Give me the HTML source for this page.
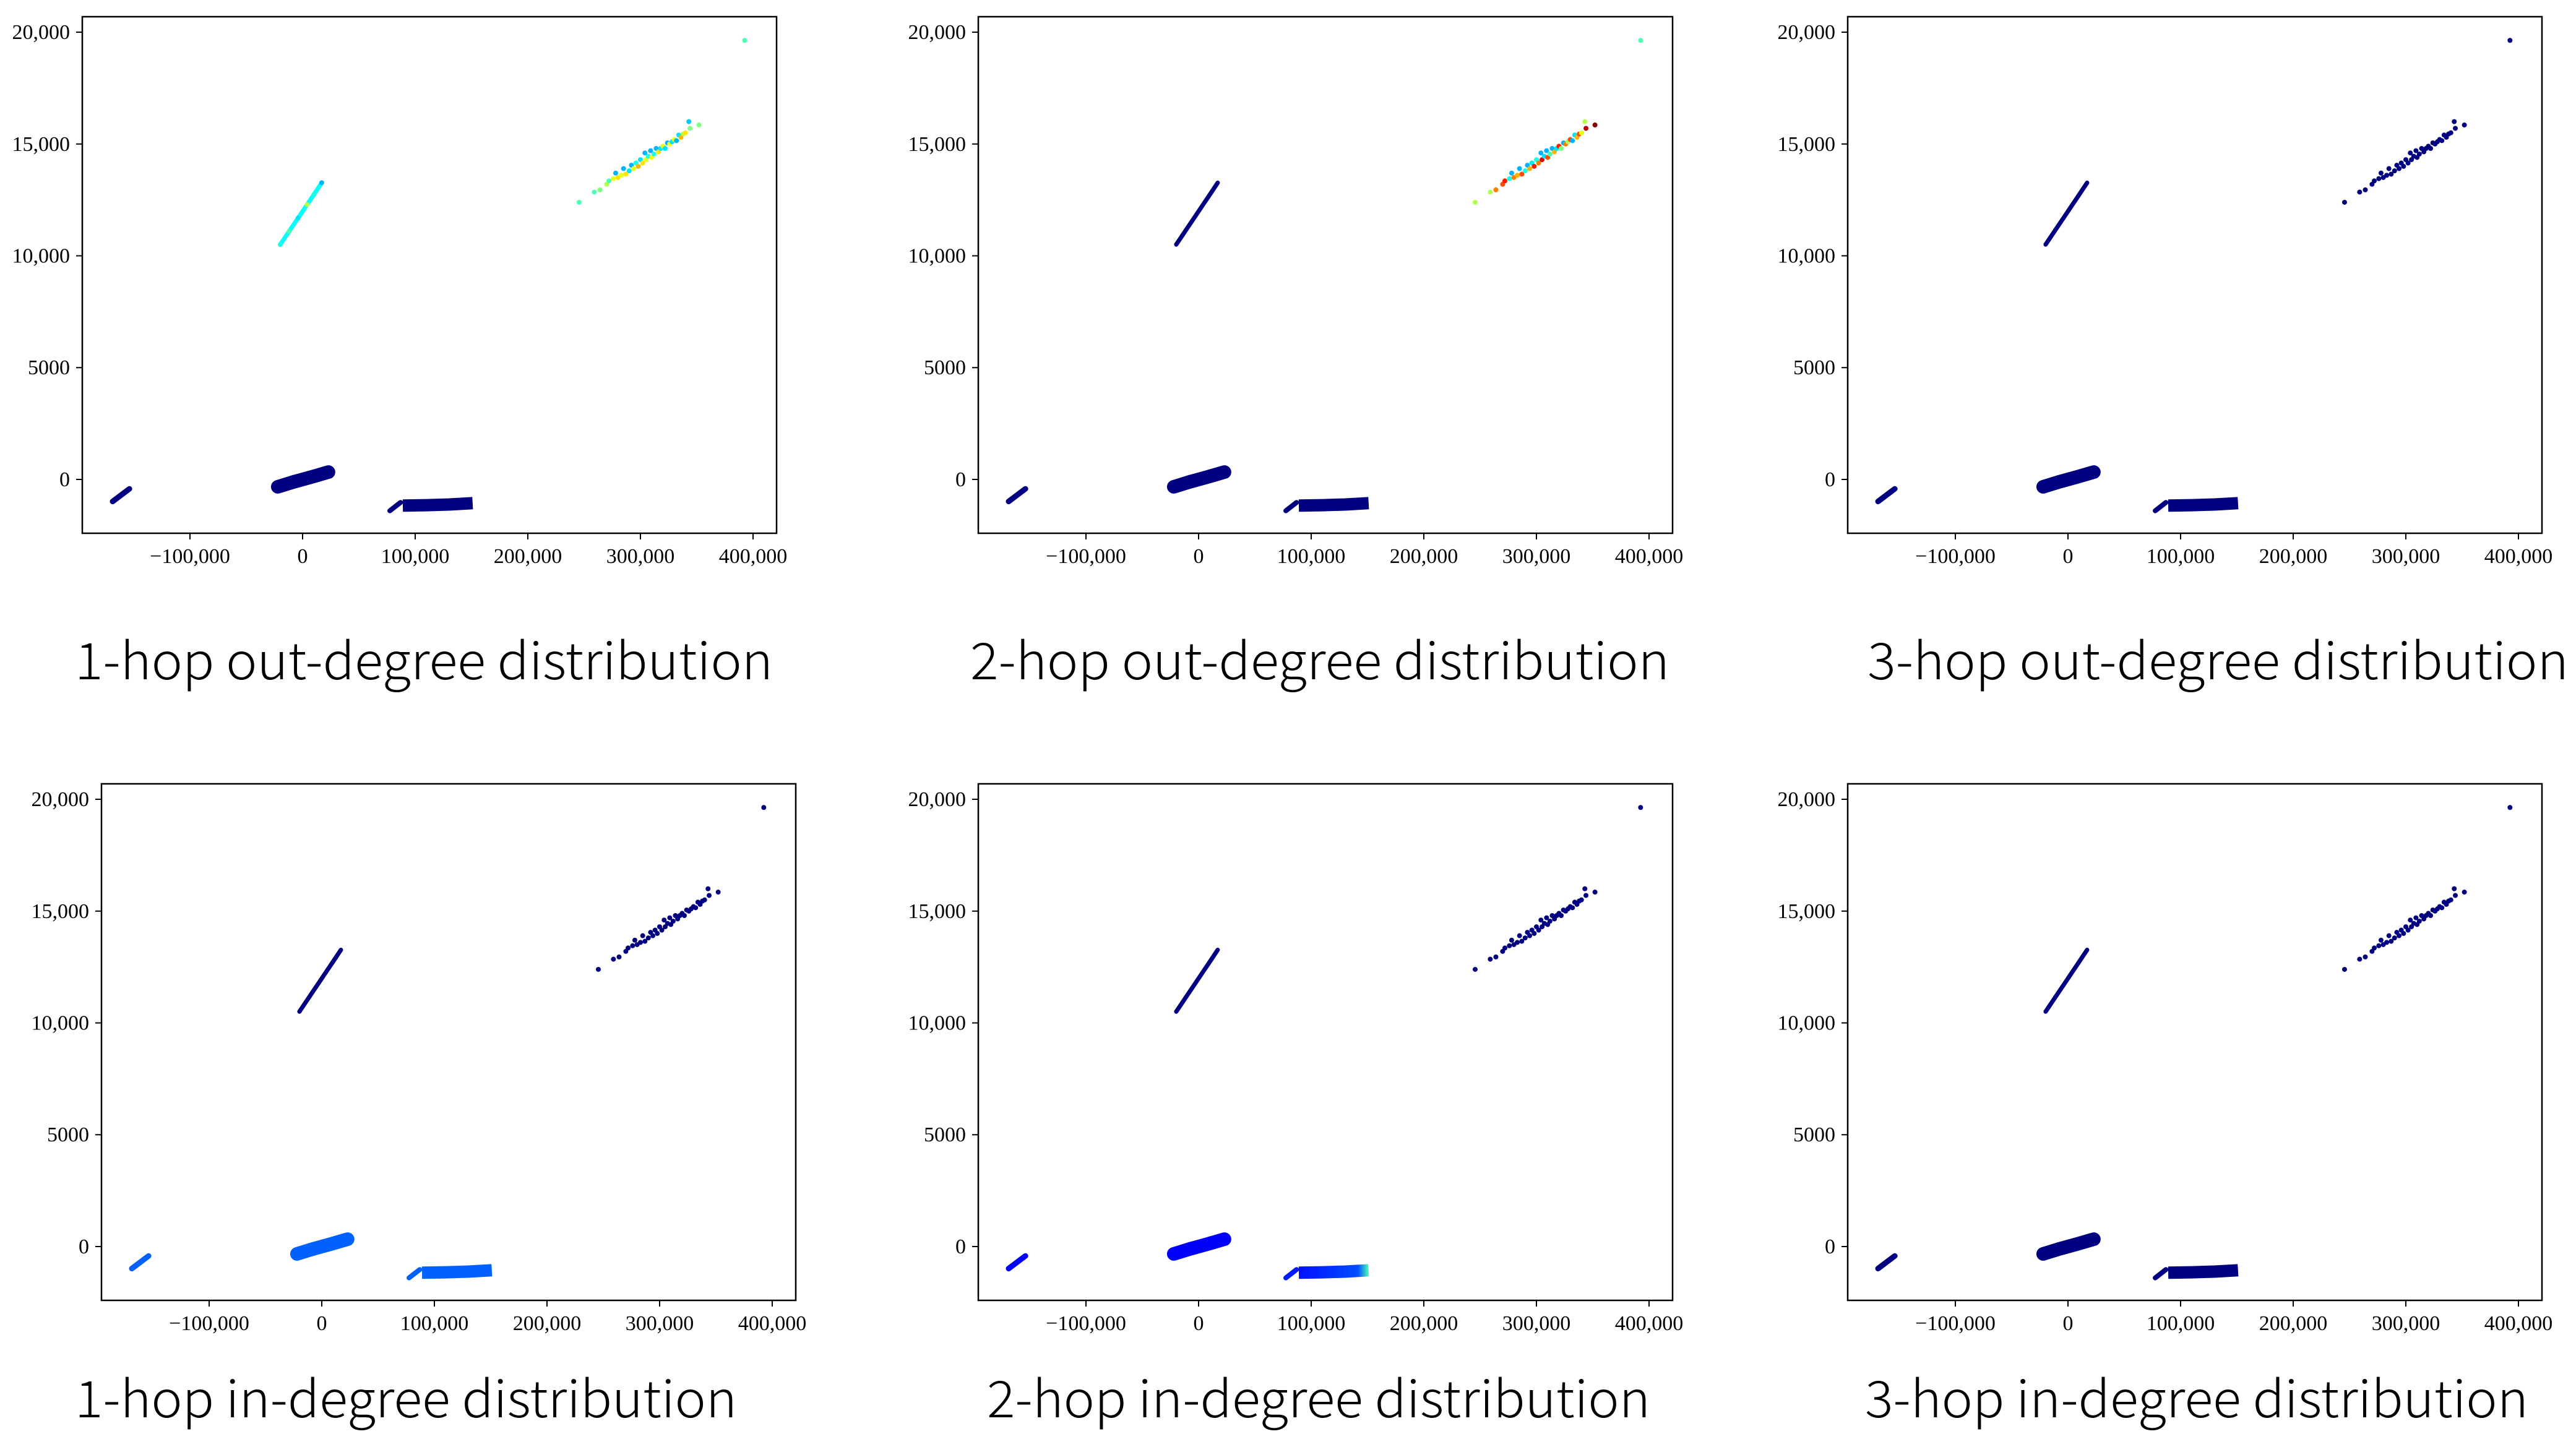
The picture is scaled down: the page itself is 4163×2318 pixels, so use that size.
<!DOCTYPE html>
<html><head><meta charset="utf-8">
<style>
html,body{margin:0;padding:0;background:#fff;}
svg{display:block;}
.tk{font-family:"Liberation Serif",serif;font-size:34px;fill:#000;}
.tt{font-family:"Noto Sans CJK SC","Liberation Sans",sans-serif;font-size:82px;font-weight:300;fill:#000;}
</style></head>
<body>
<svg id="fig" width="4163" height="2318" viewBox="0 0 4163 2318" xmlns="http://www.w3.org/2000/svg"></svg>
<script>
// ---- data (x in thousands, y raw) ----
const xTicks = [-100, 0, 100, 200, 300, 400];
const xTickLabels = ["\u2212100,000", "0", "100,000", "200,000", "300,000", "400,000"];
const yTicks = [0, 5000, 10000, 15000, 20000];
const yTickLabels = ["0", "5000", "10,000", "15,000", "20,000"];
// dense bands: centerline x,y
const bandA_x = [-168.7, -153.8];
const bandA_y = [-986, -420];
const bandB_x = [-22, -8, 8, 23];
const bandB_y = [-330, -110, 110, 330];
const bandC1_x = [77.5, 87];
const bandC1_y = [-1400, -1030];
const bandC2_x = [89, 110, 130, 151];
const bandC2_y = [-1170, -1150, -1120, -1060];
const lineD_x = [-19.8, -12, -4, 4, 10, 17];
const lineD_y = [10507, 11090, 11690, 12290, 12740, 13268];
// scatter cluster E
const clusterE_x = [245.6,259,264,270,272,276,278,280,283,285,287,290,292,294,296,298,300,302,304,305,307,309,310,312,314,316,318,320,322,324,326,328,330,332,334,336,338,340,343,344,352];
const clusterE_y = [12394,12850,12950,13200,13350,13450,13700,13500,13600,13900,13650,13800,14050,13900,14150,14000,14300,14150,14600,14300,14450,14700,14400,14550,14800,14650,14800,14900,14800,15050,15000,15100,15200,15150,15400,15300,15450,15500,16000,15700,15850];
const pointF_x = [392.5];
const pointF_y = [19634];
// colour values (jet 0..1) per panel for E and D
const eColors1 = [0.45,0.45,0.5,0.55,0.45,0.6,0.3,0.65,0.6,0.3,0.65,0.35,0.3,0.6,0.4,0.7,0.35,0.65,0.3,0.6,0.4,0.3,0.62,0.4,0.3,0.65,0.35,0.6,0.35,0.3,0.62,0.35,0.6,0.3,0.35,0.7,0.55,0.65,0.32,0.5,0.5];
const eColors2 = [0.55,0.55,0.75,0.8,0.85,0.4,0.3,0.75,0.7,0.3,0.8,0.4,0.3,0.7,0.35,0.85,0.4,0.75,0.3,0.9,0.35,0.3,0.8,0.45,0.3,0.7,0.35,0.85,0.5,0.3,0.75,0.55,0.8,0.3,0.35,0.7,0.8,0.6,0.55,0.95,1.0];
const dColors1 = [0.4,0.45,0.35,0.55,0.4,0.3];

const panels = [
  {L:133, T:27, title:"1-hop out-degree distribution", tx:121, tw:1128, ty:1098, e:"p1", d:"p1", base:0},
  {L:1581, T:27, title:"2-hop out-degree distribution", tx:1568, tw:1130, ty:1098, e:"p2", d:null, base:0},
  {L:2986, T:27, title:"3-hop out-degree distribution", tx:3018, tw:1133, ty:1098, e:null, d:null, base:0},
  {L:164, T:1267, title:"1-hop in-degree distribution", tx:121, tw:1070, ty:2291, e:null, d:null, base:0.22},
  {L:1581, T:1267, title:"2-hop in-degree distribution", tx:1595, tw:1072, ty:2291, e:null, d:null, base:"grad"},
  {L:2986, T:1267, title:"3-hop in-degree distribution", tx:3014, tw:1072, ty:2291, e:null, d:null, base:0}
];
const W = 1122, H = 835, XMIN = -195.6, XMAX = 420.9, YMIN = -2407, YMAX = 20692;

function jet(v){
  v = Math.max(0, Math.min(1, v));
  const r = Math.max(0, Math.min(1, 1.5 - Math.abs(4*v - 3)));
  const g = Math.max(0, Math.min(1, 1.5 - Math.abs(4*v - 2)));
  const b = Math.max(0, Math.min(1, 1.5 - Math.abs(4*v - 1)));
  return "rgb(" + Math.round(r*255) + "," + Math.round(g*255) + "," + Math.round(b*255) + ")";
}
const NS = "http://www.w3.org/2000/svg";
const fig = document.getElementById("fig");
function mk(tag, attrs, parent){
  const e = document.createElementNS(NS, tag);
  for (const k in attrs) e.setAttribute(k, attrs[k]);
  parent.appendChild(e);
  return e;
}

panels.forEach((p, i) => {
  const g = mk("g", {}, fig);
  
  
  const sx = v => p.L + (v - XMIN) / (XMAX - XMIN) * W;
  const sy = v => p.T + H - (v - YMIN) / (YMAX - YMIN) * H;

  const box = mk("rect", {x:p.L, y:p.T, width:W, height:H, fill:"none", stroke:"#000", "stroke-width":2.5}, g);
  
  

  xTicks.forEach((t, k) => {
    const x = sx(t);
    const tl = mk("line", {x1:x, x2:x, y1:p.T+H, y2:p.T+H+10, stroke:"#000", "stroke-width":2}, g);
    
    
    const tx = mk("text", {x:x, y:p.T+H+48, "text-anchor":"middle", class:"tk"}, g);
    tx.textContent = xTickLabels[k];
    
    
  });
  yTicks.forEach((t, k) => {
    const y = sy(t);
    const tl = mk("line", {x1:p.L-10, x2:p.L, y1:y, y2:y, stroke:"#000", "stroke-width":2}, g);
    
    
    const tx = mk("text", {x:p.L-20, y:y+11, "text-anchor":"end", class:"tk"}, g);
    tx.textContent = yTickLabels[k];
    
    
  });

  const navy = jet(0);
  const baseCol = (p.base === "grad") ? jet(0.12) : jet(p.base);

  function band(xs, ys, col, w, name, cap){
    let d = "";
    xs.forEach((v, k) => { d += (k ? "L" : "M") + sx(v).toFixed(1) + "," + sy(ys[k]).toFixed(1); });
    const pa = mk("path", {d:d, fill:"none", stroke:col, "stroke-width":w, "stroke-linecap":cap || "round", "stroke-linejoin":"round"}, g);
    
    
  }
  band(bandA_x, bandA_y, baseCol, 9, 'cluster-a');
  band(bandB_x, bandB_y, baseCol, 22, 'cluster-b');
  band(bandC1_x, bandC1_y, (p.base==="grad")?jet(0.15):baseCol, 8, 'cluster-c-tail');
  if (p.base === "grad") {
    const gid = "gradC" + i;
    const defs = mk("defs", {}, g);
    const lg = mk("linearGradient", {id:gid, gradientUnits:"userSpaceOnUse", x1:sx(88), x2:sx(151), y1:0, y2:0}, defs);
    mk("stop", {offset:"0", "stop-color":jet(0.14)}, lg);
    mk("stop", {offset:"0.85", "stop-color":jet(0.2)}, lg);
    mk("stop", {offset:"1", "stop-color":jet(0.45)}, lg);
    band(bandC2_x, bandC2_y, "url(#" + gid + ")", 20, 'cluster-c', "butt");
  } else {
    band(bandC2_x, bandC2_y, baseCol, 20, 'cluster-c', "butt");
  }
  band(lineD_x, lineD_y, p.d ? jet(0.38) : navy, 7, 'cluster-d');
  if (p.d) {
    lineD_x.forEach((v, k) => {
      const c = mk("circle", {cx:sx(v), cy:sy(lineD_y[k]), r:4, fill:jet(dColors1[k])}, g);
      
      
    });
  }
  clusterE_x.forEach((v, k) => {
    let col = navy;
    if (p.e === "p1") col = jet(eColors1[k]);
    if (p.e === "p2") col = jet(eColors2[k]);
    const c = mk("circle", {cx:sx(v), cy:sy(clusterE_y[k]), r:4, fill:col}, g);
    
    
  });
  pointF_x.forEach((v, k) => {
    const c = mk("circle", {cx:sx(v), cy:sy(pointF_y[k]), r:4, fill:p.e ? jet(0.45) : navy}, g);
    
    
  });

  const tt = mk("text", {x:p.tx, y:p.ty, class:"tt", textLength:p.tw, lengthAdjust:"spacingAndGlyphs"}, g);
  tt.textContent = p.title;
  
  
});
</script>
</body></html>
